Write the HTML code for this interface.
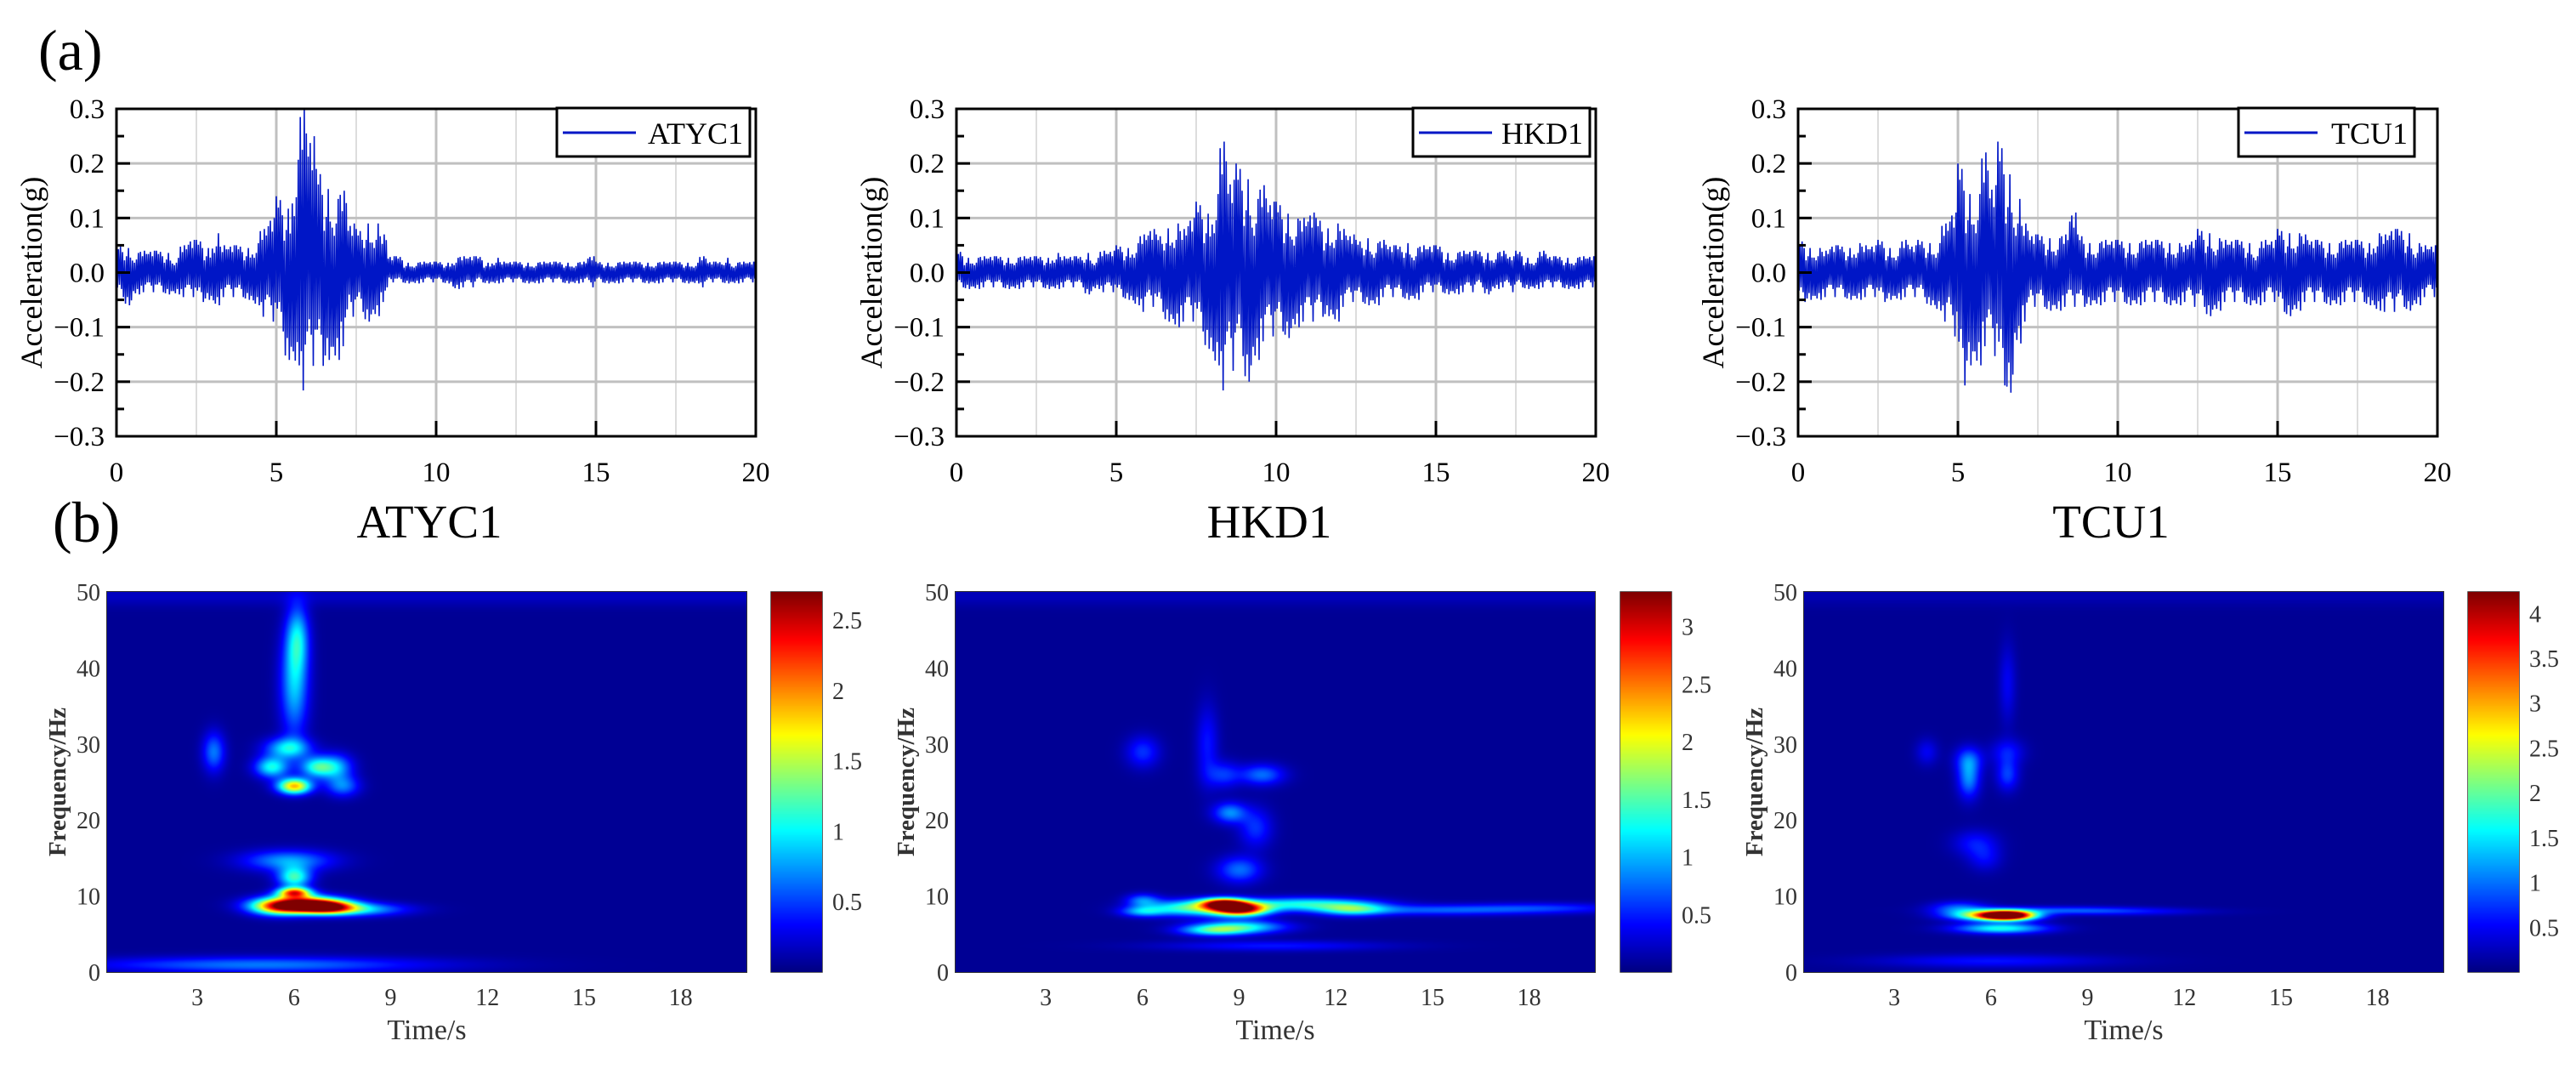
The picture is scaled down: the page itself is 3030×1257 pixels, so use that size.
<!DOCTYPE html>
<html><head><meta charset="utf-8">
<style>
html,body{margin:0;padding:0;background:#fff;}
#wrap{position:relative;width:3030px;height:1257px;overflow:hidden;background:#fff;font-family:"Liberation Serif",serif;}
svg{position:absolute;left:0;top:0;}
canvas{position:absolute;}
</style></head>
<body>
<div id="wrap">
<svg id="svg" width="3030" height="1257"></svg>
</div>
<script>
// ---------- waveform data (0.25 s bins, peak up / peak down, g) ----------
const binSize = 0.25;
const atycUp = [.05,.05,.04,.04,.04,.04,.04,.03,.05,.06,.06,.05,.08,.05,.05,.05,.05,.06,.08,.10,.14,.13,.23,.30,.25,.19,.17,.15,.15,.09,.08,.10,.10,.07,.03,.03,.02,.02,.02,.02,.02,.02,.03,.03,.03,.03,.02,.03,.02,.02,.02,.02,.02,.02,.02,.02,.02,.02,.02,.03,.02,.02,.02,.02,.02,.02,.02,.02,.02,.02,.02,.02,.02,.03,.02,.02,.03,.02,.02,.02];
const atycDown = [-.05,-.06,-.04,-.04,-.04,-.04,-.04,-.04,-.05,-.05,-.06,-.05,-.06,-.05,-.05,-.05,-.05,-.06,-.09,-.10,-.12,-.16,-.17,-.24,-.19,-.19,-.16,-.16,-.15,-.09,-.08,-.09,-.08,-.06,-.02,-.02,-.02,-.02,-.02,-.02,-.02,-.02,-.03,-.03,-.03,-.02,-.02,-.02,-.02,-.02,-.02,-.02,-.02,-.02,-.02,-.02,-.02,-.02,-.02,-.03,-.02,-.02,-.02,-.02,-.02,-.02,-.02,-.02,-.02,-.02,-.02,-.02,-.02,-.03,-.02,-.02,-.02,-.02,-.02,-.02];
const hkdUp = [.04,.03,.03,.03,.03,.03,.03,.03,.03,.03,.03,.03,.04,.03,.03,.03,.04,.03,.04,.04,.05,.05,.06,.07,.08,.07,.09,.10,.08,.10,.13,.12,.16,.24,.17,.20,.19,.15,.16,.13,.13,.12,.11,.10,.11,.10,.09,.10,.08,.07,.06,.07,.06,.06,.05,.05,.06,.05,.05,.05,.05,.04,.04,.04,.04,.04,.04,.04,.04,.03,.04,.03,.03,.04,.03,.03,.03,.03,.03,.03];
const hkdDown = [-.03,-.03,-.03,-.03,-.03,-.03,-.03,-.03,-.03,-.03,-.03,-.03,-.03,-.03,-.03,-.03,-.04,-.03,-.04,-.04,-.05,-.05,-.06,-.08,-.07,-.08,-.09,-.10,-.10,-.10,-.12,-.14,-.17,-.24,-.20,-.17,-.20,-.16,-.14,-.13,-.12,-.12,-.10,-.10,-.10,-.09,-.08,-.09,-.07,-.06,-.06,-.06,-.06,-.05,-.05,-.05,-.05,-.05,-.04,-.04,-.04,-.04,-.04,-.04,-.04,-.03,-.04,-.03,-.03,-.04,-.03,-.03,-.03,-.03,-.03,-.03,-.03,-.03,-.03,-.03];
const tcuUp = [.06,.05,.05,.04,.05,.05,.05,.06,.05,.05,.06,.05,.05,.06,.05,.06,.06,.06,.09,.11,.20,.16,.16,.22,.16,.24,.20,.15,.09,.07,.07,.07,.07,.07,.11,.07,.06,.06,.06,.06,.06,.06,.06,.06,.06,.06,.06,.06,.05,.06,.08,.08,.07,.06,.06,.06,.06,.05,.06,.06,.08,.08,.08,.07,.06,.06,.06,.06,.06,.06,.06,.06,.08,.07,.08,.08,.08,.06,.05,.05];
const tcuDown = [-.06,-.05,-.05,-.05,-.05,-.05,-.05,-.05,-.05,-.05,-.06,-.05,-.05,-.05,-.05,-.05,-.06,-.07,-.10,-.13,-.23,-.17,-.17,-.15,-.17,-.23,-.22,-.13,-.10,-.07,-.07,-.07,-.07,-.07,-.07,-.07,-.06,-.06,-.06,-.06,-.06,-.06,-.06,-.06,-.06,-.06,-.06,-.06,-.06,-.07,-.07,-.08,-.07,-.06,-.06,-.06,-.06,-.06,-.06,-.06,-.08,-.08,-.07,-.06,-.06,-.06,-.06,-.06,-.06,-.06,-.06,-.06,-.07,-.08,-.08,-.07,-.07,-.06,-.05,-.05];
const stationNames = ["ATYC1","HKD1","TCU1"];
const xTicks = [0,5,10,15,20];
const yTicks = [0.3,0.2,0.1,0.0,-0.1,-0.2,-0.3];
const yTickLabels = ["0.3","0.2","0.1","0.0","\u22120.1","\u22120.2","\u22120.3"];

// ---------- spectrogram data: blobs [time s, freq Hz, amplitude, sd time, sd freq] ----------
const atycBlobs = [[6.2,9,2.5,0.7,0.6],[6.0,10.5,2.0,0.3,0.4],[7.0,8.6,1.7,0.5,0.5],[5.5,8.5,1.2,0.5,0.6],[7.8,8.3,0.9,0.9,0.5],[6.0,12.5,1.1,0.3,0.8],[5.8,14.7,0.7,0.8,0.8],[6.0,24.5,1.8,0.3,0.6],[5.3,27,1.0,0.3,0.8],[6.7,27,1.0,0.3,0.8],[5.8,29.5,0.9,0.4,0.8],[7.3,27,0.7,0.3,1.0],[7.5,24.5,0.6,0.3,0.8],[3.5,29,0.6,0.2,1.5],[6.0,38,0.8,0.25,4],[6.1,44,0.7,0.2,2.5],[5.0,1.0,0.6,3,0.6],[10,49.5,0.12,100,0.8]];
const hkdBlobs = [[9.0,8.3,3.1,0.5,0.5],[8.5,9.1,2.6,0.4,0.4],[7.5,8.5,1.4,0.8,0.6],[11,9,1.2,1.2,0.5],[12.5,8.3,1.0,0.6,0.5],[15,8.2,0.6,2.0,0.4],[18.5,8.5,0.4,1.5,0.4],[9,6,1.2,0.8,0.5],[8.2,5.5,1.0,0.6,0.4],[6,9.5,0.7,0.3,0.5],[6,8,0.8,0.4,0.4],[9,13.5,0.7,0.4,1],[8.7,21,0.8,0.3,0.8],[9.7,26,0.7,0.4,0.8],[6,29,0.5,0.3,1.2],[8.5,26,0.5,0.3,1],[9.5,19,0.5,0.3,1.5],[8,30,0.4,0.2,3],[10,3.5,0.4,2,0.4],[10,49.5,0.12,100,0.8]];
const tcuBlobs = [[6.5,7.5,4.2,0.45,0.35],[6.0,7.5,2.5,0.7,0.4],[6.3,5.8,1.6,0.8,0.4],[5,8.5,0.8,0.5,0.5],[8,8.2,0.6,1.5,0.3],[10,8,0.4,1.5,0.3],[5.3,25.5,1.0,0.2,1.5],[5.3,28,0.7,0.25,1],[6.5,26,0.7,0.2,1.2],[6.5,29,0.5,0.3,1],[5.5,17,0.5,0.4,1],[5.8,15,0.4,0.3,1],[6.5,38,0.4,0.15,3],[4,29,0.4,0.2,1],[6,1.5,0.5,2,0.5],[10,49.5,0.12,100,0.8]];
const colorMax = [2.7,3.3,4.24];
const cbTicks1 = [0.5,1,1.5,2,2.5];
const cbTicks2 = [0.5,1,1.5,2,2.5,3];
const cbTicks3 = [0.5,1,1.5,2,2.5,3,3.5,4];
const specXTicks = [3,6,9,12,15,18];
const specYTicks = [0,10,20,30,40,50];

const NS = "http://www.w3.org/2000/svg";
const svg = document.getElementById('svg');
function el(tag, attrs, parent, text){
  const e = document.createElementNS(NS, tag);
  for (const k in attrs) e.setAttribute(k, attrs[k]);
  if (text !== undefined) e.textContent = text;
  (parent||svg).appendChild(e);
  return e;
}

let t;
t = el('text',{x:45,y:82,'font-size':68,fill:'#000'},svg,'(a)');


t = el('text',{x:62,y:637,'font-size':68,fill:'#000'},svg,'(b)');



const frameX = [137,1125,2115], FW = 752, FY0 = 128, FY1 = 513;
const ups = [atycUp,hkdUp,tcuUp], downs = [atycDown,hkdDown,tcuDown];
const legendBoxes = [[655,227],[1662,208],[2633,207]];
const jitter = [1,.55,.85,.45,.95,.6,.75,.9];
for (let p=0;p<3;p++){
  const x0 = frameX[p];
  const g = el('g',{});
  
  
  const xs = v => x0 + v/20*FW;
  const ys = v => FY0 + (0.3 - v)/0.6*(FY1-FY0);
  [2.5,7.5,12.5,17.5].forEach(v=>{ const l=el('line',{x1:xs(v),x2:xs(v),y1:FY0,y2:FY1,stroke:'#d2d2d2','stroke-width':1.5},g);  });
  [5,10,15].forEach(v=>{ const l=el('line',{x1:xs(v),x2:xs(v),y1:FY0,y2:FY1,stroke:'#c0c0c0','stroke-width':3},g);  });
  [0.2,0.1,0,-0.1,-0.2].forEach(v=>{ const l=el('line',{x1:x0,x2:x0+FW,y1:ys(v),y2:ys(v),stroke:'#c0c0c0','stroke-width':3},g);  });
  const up = ups[p], dn = downs[p];
  let pts = [], k=0;
  const sub = 8;
  for (let i=0;i<up.length;i++){
    for (let s=0;s<sub;s++){
      const tt = (i + s/sub)*binSize;
      const f = jitter[(k + (i*3)%5) % jitter.length];
      const v = (s%2===0 ? up[i] : dn[i]) * f;
      pts.push(xs(tt).toFixed(1)+','+ys(v).toFixed(1));
      k++;
    }
  }
  const pl = el('polyline',{points:pts.join(' '),fill:'none',stroke:'#0016c6','stroke-width':1.6,'stroke-linejoin':'miter'},g);
  
  
  for (let v=-0.25; v<0.3; v+=0.05){
    const major = Math.abs(Math.round(v*100)%10)===0;
    const l=el('line',{x1:x0,x2:x0+(major?16:9),y1:ys(v),y2:ys(v),stroke:'#000','stroke-width':3},g);
     
  }
  [5,10,15].forEach(v=>{ const l=el('line',{x1:xs(v),x2:xs(v),y1:FY1,y2:FY1-18,stroke:'#000','stroke-width':3},g);  });
  const fr = el('rect',{x:x0,y:FY0,width:FW,height:FY1-FY0,fill:'none',stroke:'#000','stroke-width':3},g);
   
  yTicks.forEach((v,i)=>{ const tx=el('text',{x:x0-14,y:ys(v)+11,'font-size':33,'text-anchor':'end',fill:'#000'},g,yTickLabels[i]);  });
  xTicks.forEach(v=>{ const tx=el('text',{x:xs(v),y:566,'font-size':33,'text-anchor':'middle',fill:'#000'},g,String(v));  });
  const yl = el('text',{x:0,y:0,'font-size':36,'text-anchor':'middle',fill:'#000',transform:`translate(${x0-88},${(FY0+FY1)/2}) rotate(-90)`},g,'Acceleration(g)');
   
  const ti = el('text',{x:x0+FW/2-8,y:632,'font-size':55,'text-anchor':'middle',fill:'#000'},g,stationNames[p]);
   
  const [lx,lw] = legendBoxes[p];
  const lg = el('g',{},g);
   
  el('rect',{x:lx,y:127,width:lw,height:57,fill:'#fff',stroke:'#000','stroke-width':3},lg);
  el('line',{x1:lx+7,x2:lx+93,y1:156,y2:156,stroke:'#0016c6','stroke-width':3},lg);
  const lt = el('text',{x:lx+lw-8,y:169,'font-size':36,'text-anchor':'end',fill:'#000'},lg,stationNames[p]);
   
}

function jet(x){
  x = Math.max(0,Math.min(1,x));
  const c = v => Math.max(0,Math.min(1,v));
  return [c(1.5-Math.abs(4*x-3)),c(1.5-Math.abs(4*x-2)),c(1.5-Math.abs(4*x-1))];
}
const specX = [126,1124,2122], SW = 752, SY0 = 696, SY1 = 1143, SH = SY1-SY0;
const T0 = 0.2, T1 = 20.04;
const blobsAll = [atycBlobs,hkdBlobs,tcuBlobs];
const cbX = [907,1906,2903], CBW = 60;
const cbTicksAll = [cbTicks1,cbTicks2,cbTicks3];
const wrap = document.getElementById('wrap');
for (let p=0;p<3;p++){
  const x0 = specX[p];
  const cv = document.createElement('canvas');
  cv.width = SW; cv.height = SH;
  cv.style.left = x0+'px'; cv.style.top = SY0+'px';
  
  
  wrap.appendChild(cv);
  const ctx = cv.getContext('2d');
  const img = ctx.createImageData(SW,SH);
  const blobs = blobsAll[p], cmax = colorMax[p];
  for (let py=0;py<SH;py++){
    const f = 50*(1 - py/SH);
    for (let px=0;px<SW;px++){
      const tt = T0 + (T1-T0)*px/SW;
      let v = 0.02*cmax;
      for (const b of blobs){
        const dt=(tt-b[0])/(b[3]*1.2), df=(f-b[1])/(b[4]*1.2);
        const e = dt*dt+df*df;
        if (e<16) v += b[2]*Math.exp(-0.5*e);
      }
      const c = jet(v/cmax);
      const i = (py*SW+px)*4;
      img.data[i]=c[0]*255; img.data[i+1]=c[1]*255; img.data[i+2]=c[2]*255; img.data[i+3]=255;
    }
  }
  ctx.putImageData(img,0,0);
  const cb = document.createElement('canvas');
  cb.width = CBW; cb.height = SH;
  cb.style.left = cbX[p]+'px'; cb.style.top = SY0+'px';
  
  
  wrap.appendChild(cb);
  const cctx = cb.getContext('2d');
  for (let py=0;py<SH;py++){
    const c = jet(1-py/SH);
    cctx.fillStyle = `rgb(${c[0]*255|0},${c[1]*255|0},${c[2]*255|0})`;
    cctx.fillRect(0,py,CBW,1);
  }
  const g = el('g',{});
  
  
  const xs = v => x0 + (v-T0)/(T1-T0)*SW;
  const ys = v => SY1 - v/50*SH;
  el('rect',{x:x0,y:SY0,width:SW,height:SH,fill:'none',stroke:'#333','stroke-width':2},g);
  el('rect',{x:cbX[p],y:SY0,width:CBW,height:SH,fill:'none',stroke:'#333','stroke-width':1.5},g);
  specXTicks.forEach(v=>{ const tx=el('text',{x:xs(v),y:1182,'font-size':28,'text-anchor':'middle',fill:'#333'},g,String(v));  });
  specYTicks.forEach(v=>{ const tx=el('text',{x:x0-8,y:ys(v)+10,'font-size':28,'text-anchor':'end',fill:'#333'},g,String(v));  });
  const cmaxv = colorMax[p];
  cbTicksAll[p].forEach(v=>{
    const yy = SY1 - v/cmaxv*SH;
    el('line',{x1:cbX[p]+CBW-5,x2:cbX[p]+CBW,y1:yy,y2:yy,stroke:'#333','stroke-width':1.5},g);
    const tx=el('text',{x:cbX[p]+CBW+12,y:yy+10,'font-size':28,fill:'#333'},g,String(v));
     
  });
  const xl = el('text',{x:x0+SW/2,y:1222,'font-size':34,'text-anchor':'middle',fill:'#333'},g,'Time/s');
   
  const yl = el('text',{x:0,y:0,'font-size':29,'font-weight':'bold','text-anchor':'middle',fill:'#333',transform:`translate(${x0-49},${(SY0+SY1)/2}) rotate(-90)`},g,'Frequency/Hz');
   
}
</script>
</body></html>
